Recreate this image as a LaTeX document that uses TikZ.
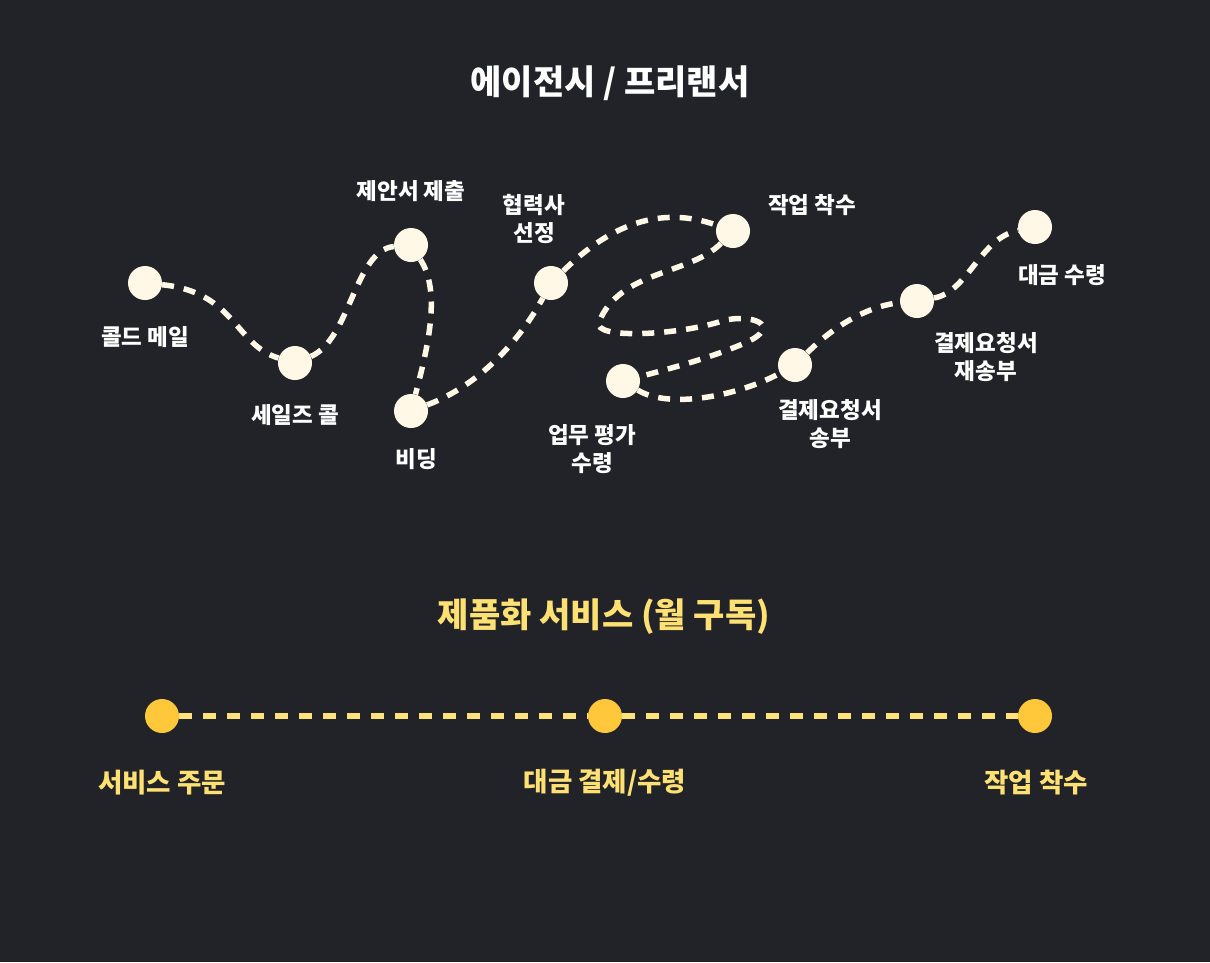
\documentclass[tikz,border=0pt]{standalone}
\usepackage{fontspec}
\newfontfamily\kr{Noto Sans CJK KR}
\definecolor{bgc}{HTML}{212329}
\definecolor{cream}{HTML}{FFF8E6}
\definecolor{ydot}{HTML}{FFC83A}
\definecolor{ydash}{HTML}{FFE27A}
\definecolor{ytext}{HTML}{FFE072}
\pgfdeclarelayer{back}
\pgfdeclarelayer{lines}
\pgfsetlayers{back,lines,main}
\begin{document}
\begin{tikzpicture}[x=1pt,y=-1pt,
  dot/.style={circle,fill=cream,minimum size=34pt,inner sep=0pt},
  ydotst/.style={circle,fill=ydot,minimum size=34pt,inner sep=0pt},
  lbl/.style={text=white,font=\kr\bfseries\fontsize{22.5}{28}\selectfont,align=center,inner sep=0pt},
  ylbl/.style={text=ytext,font=\kr\bfseries\fontsize{26.5}{30}\selectfont,inner sep=0pt},
  ttl/.style={font=\kr\bfseries\fontsize{34}{38}\selectfont,inner sep=0pt},
  pathline/.style={draw=cream,line width=5.5pt,dash pattern=on 12pt off 10pt},
  ypath/.style={draw=ydash,line width=6pt,dash pattern=on 12.5pt off 11.5pt}
]
\begin{pgfonlayer}{back}
  \fill[bgc] (0,0) rectangle (1210,962);
\end{pgfonlayer}
\useasboundingbox (0,0) rectangle (1210,962);

% titles
\node[ttl,text=white] (t1) at (610,83) {에이전시 / 프리랜서};
\node[ttl,text=ytext] (t2) at (604,617) {제품화 서비스 (월 구독)};

% upper dots
\node[dot] (n1) at (145,283) {};
\node[dot] (n2) at (295,363) {};
\node[dot] (n3) at (411,245) {};
\node[dot] (n4) at (411,411) {};
\node[dot] (n5) at (551,283) {};
\node[dot] (n6) at (733,231) {};
\node[dot] (n7) at (623,381) {};
\node[dot] (n8) at (795,365) {};
\node[dot] (n9) at (917,301) {};
\node[dot] (n10) at (1035,227) {};

% upper labels
\node[lbl] (l1) at (145,337) {콜드 메일};
\node[lbl] (l2) at (295,415) {세일즈 콜};
\node[lbl] (l3) at (411,191) {제안서 제출};
\node[lbl] (l4) at (416,459) {비딩};
\node[lbl] (l5) at (534,219) {협력사\\선정};
\node[lbl] (l6) at (812,205) {작업 착수};
\node[lbl] (l7) at (592,449) {업무 평가\\수령};
\node[lbl] (l8) at (830,424) {결제요청서\\송부};
\node[lbl] (l9) at (986,357) {결제요청서\\재송부};
\node[lbl] (l10) at (1062,275) {대금 수령};

\begin{pgfonlayer}{lines}
  \draw[pathline] (n1) .. controls (235,292) and (235,345) .. (n2);
  \draw[pathline] (n2) .. controls (350,340) and (355,250) .. (n3);
  \draw[pathline] (n3) .. controls (440,290) and (430,340) .. (n4);
  \draw[pathline] (n4) .. controls (480,385) and (520,340) .. (n5);
  \draw[pathline] (n5) .. controls (610,225) and (660,205) .. (n6);
  \draw[pathline] (n6) .. controls (690,275) and (620,270) .. (599,322)
     .. controls (592,340) and (680,335) .. (722,321)
     .. controls (750,313) and (785,325) .. (745,343)
     .. controls (715,356) and (680,366) .. (n7);
  \draw[pathline] (n7) .. controls (670,410) and (740,395) .. (n8);
  \draw[pathline] (n8) .. controls (840,320) and (875,305) .. (n9);
  \draw[pathline] (n9) .. controls (968,292) and (980,238) .. (n10);
\end{pgfonlayer}

% bottom
\node[ydotst] (b1) at (162,716) {};
\node[ydotst] (b2) at (605,716) {};
\node[ydotst] (b3) at (1035,716) {};
\node[ylbl] (bl1) at (162,783) {서비스 주문};
\node[ylbl] (bl2) at (605,783) {대금 결제/수령};
\node[ylbl] (bl3) at (1036,783) {작업 착수};
\begin{pgfonlayer}{lines}
  \draw[ypath] (b1) -- (b2);
  \draw[ypath] (b2) -- (b3);
\end{pgfonlayer}
\end{tikzpicture}
\end{document}
